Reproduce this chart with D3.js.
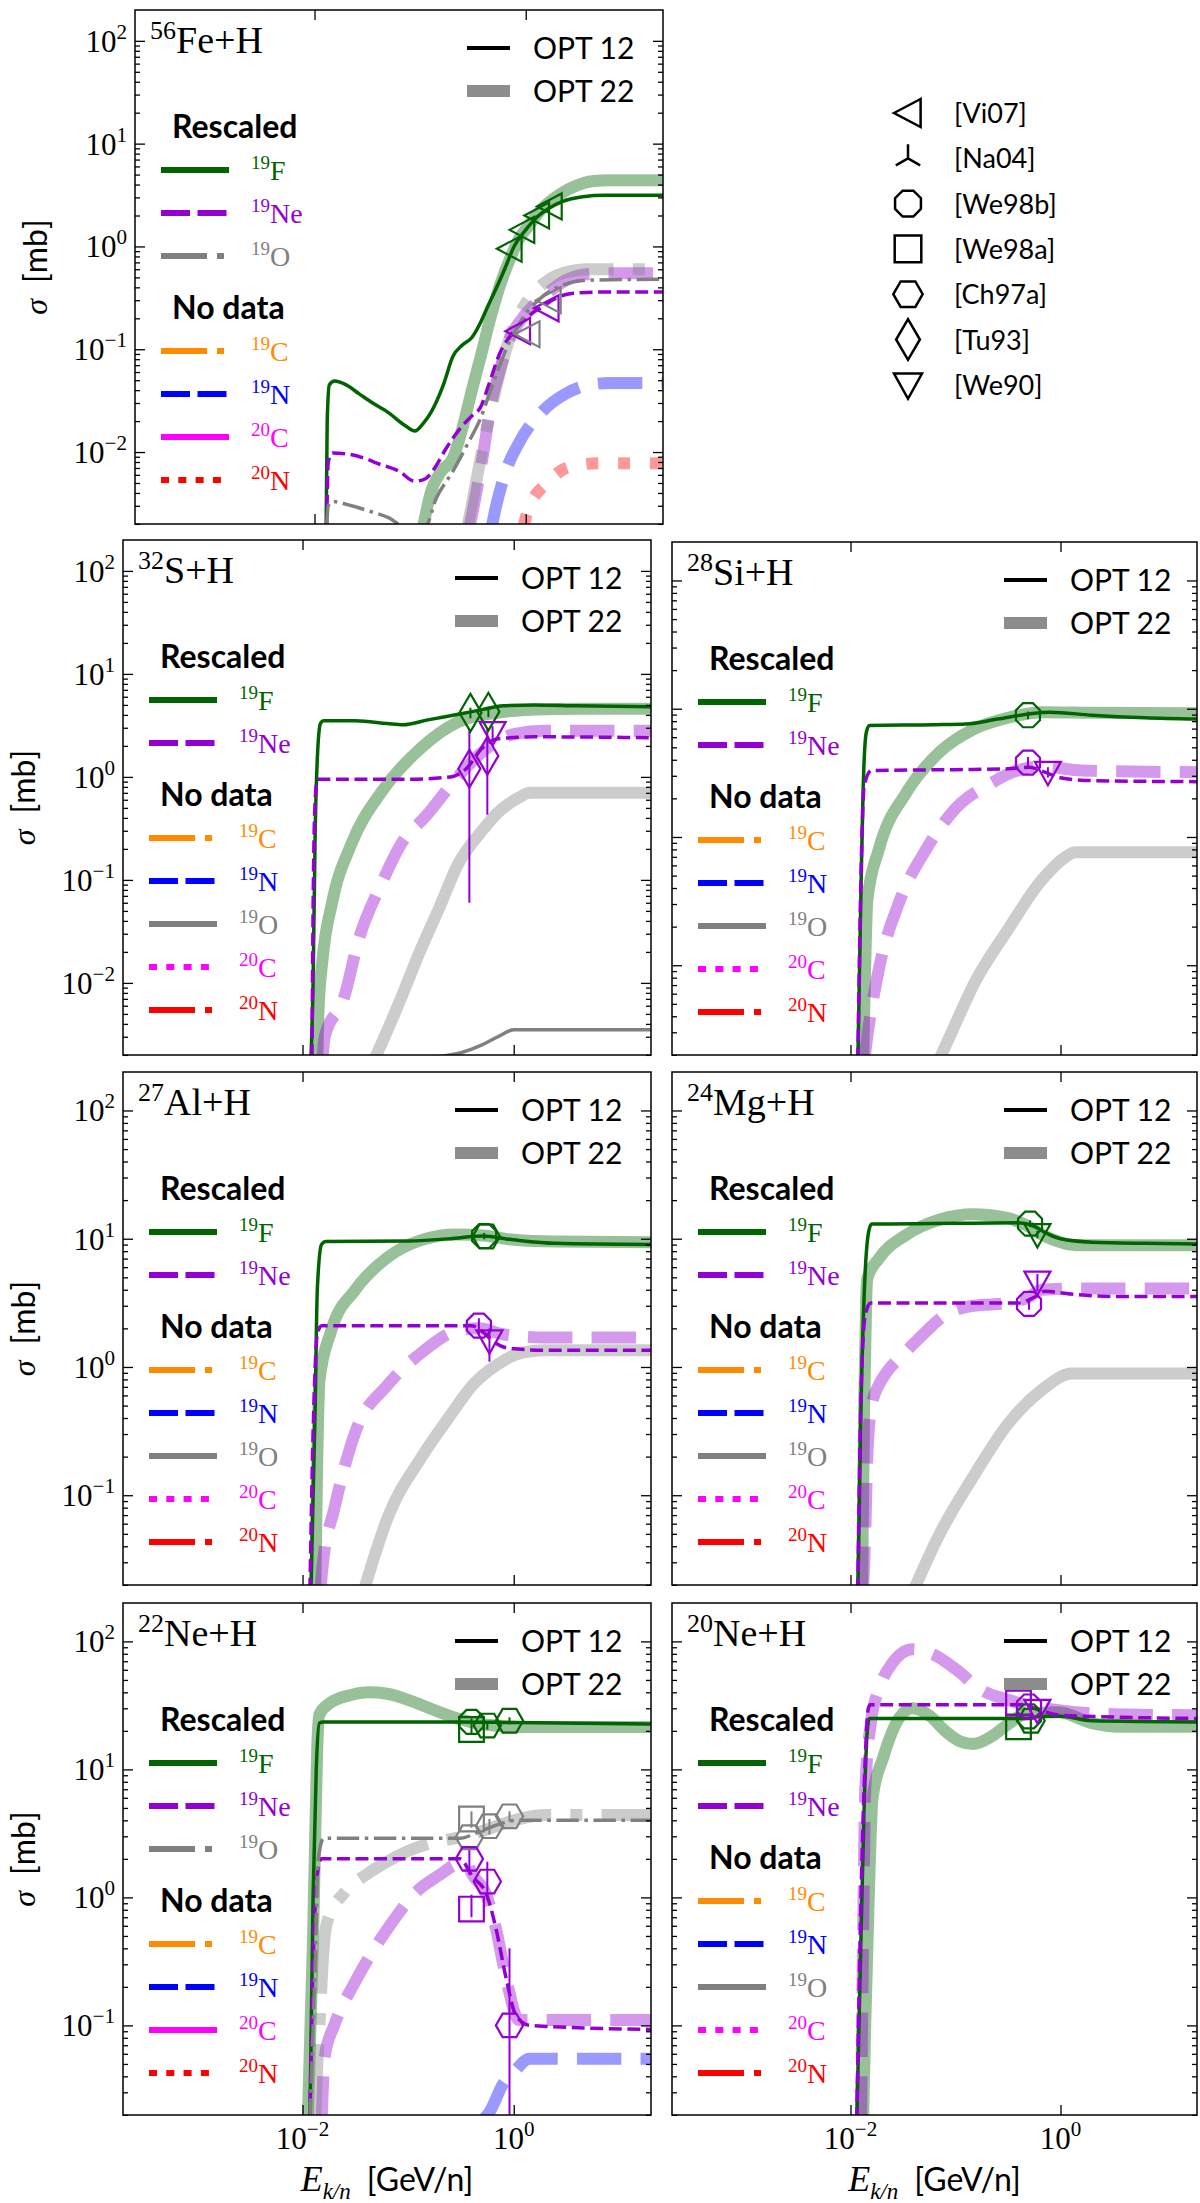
<!DOCTYPE html>
<html>
<head>
<meta charset="utf-8">
<script src="https://cdn.jsdelivr.net/npm/d3@7"></script>
<style>
body { margin: 0; background: #fff; }
</style>
</head>
<body>
<svg id="chart" width="1200" height="2203"></svg>
<script>
// x values are log10(E_k/n [GeV/n]), y values are sigma [mb]

// 56Fe+H
const FE_F12 = [[-1.89,0.0019],[-1.88,0.02],[-1.86,0.045],[-1.81,0.049],[-1.7,0.045],[-1.58,0.037],[-1.45,0.03],[-1.32,0.025],[-1.14,0.018],[-1.05,0.016],[-0.97,0.019],[-0.9,0.024],[-0.78,0.045],[-0.69,0.085],[-0.6,0.11],[-0.51,0.13],[-0.43,0.18],[-0.36,0.26],[-0.29,0.37],[-0.2,0.6],[-0.11,1.0],[0.0,1.45],[0.1,1.9],[0.22,2.35],[0.35,2.75],[0.54,3.05],[0.75,3.15],[1.3,3.15]];
const FE_F22 = [[-0.97,0.0019],[-0.9,0.004],[-0.8,0.0065],[-0.69,0.0087],[-0.6,0.017],[-0.51,0.04],[-0.42,0.09],[-0.335,0.2],[-0.25,0.4],[-0.16,0.71],[-0.06,1.2],[0.02,1.55],[0.15,2.3],[0.32,3.2],[0.48,3.9],[0.63,4.3],[0.8,4.4],[1.3,4.4]];
const FE_NE12 = [[-1.885,0.0019],[-1.87,0.008],[-1.83,0.0098],[-1.67,0.0095],[-1.5,0.0085],[-1.41,0.0078],[-1.2,0.0065],[-1.05,0.0052],[-0.95,0.0055],[-0.87,0.0068],[-0.75,0.011],[-0.6,0.018],[-0.5,0.023],[-0.43,0.027],[-0.35,0.045],[-0.25,0.089],[-0.11,0.15],[0.05,0.22],[0.16,0.26],[0.3,0.32],[0.45,0.35],[0.7,0.36],[1.3,0.36]];
const FE_NE22 = [[-0.53,0.0019],[-0.5,0.0027],[-0.4,0.01],[-0.335,0.027],[-0.25,0.06],[-0.16,0.12],[0.0,0.22],[0.11,0.29],[0.25,0.38],[0.38,0.47],[0.6,0.54],[0.8,0.55],[1.3,0.55]];
const FE_O12 = [[-1.885,0.0019],[-1.87,0.003],[-1.83,0.0033],[-1.65,0.003],[-1.5,0.0027],[-1.3,0.0023],[-1.15,0.0019],[-0.95,0.0019],[-0.85,0.0035],[-0.69,0.0065],[-0.55,0.012],[-0.43,0.021],[-0.3,0.05],[-0.15,0.12],[0.0,0.22],[0.15,0.32],[0.35,0.42],[0.6,0.47],[1.3,0.48]];
const FE_O22 = [[-0.55,0.0019],[-0.5,0.0035],[-0.4,0.012],[-0.3,0.035],[-0.15,0.13],[0.0,0.28],[0.15,0.42],[0.35,0.55],[0.6,0.6],[1.3,0.6]];
const FE_N19_22 = [[-0.32,0.0019],[-0.29,0.0027],[-0.2,0.006],[-0.07,0.012],[0.16,0.025],[0.38,0.037],[0.6,0.045],[0.8,0.047],[1.3,0.047]];
const FE_N20_22 = [[-0.02,0.0019],[0.02,0.0027],[0.2,0.005],[0.42,0.0072],[0.7,0.0078],[1.3,0.0078]];
const FE_PTS = [["Vi07","F",-0.15,0.95],["Vi07","F",-0.03,1.45],["Vi07","F",0.11,2.0],["Vi07","F",0.23,2.45],
  ["Vi07","Ne",-0.07,0.15],["Vi07","Ne",0.2,0.25],["Vi07","O",0.02,0.14],["Vi07","O",0.22,0.3]];

// 32S+H
const S_F12 = [[-1.92,0.0019],[-1.9,0.01],[-1.88,0.3],[-1.86,1.5],[-1.83,3.3],[-1.8,3.5],[-1.5,3.5],[-1.2,3.3],[-1.05,3.2],[-0.8,3.6],[-0.5,4.1],[-0.3,4.5],[-0.1,4.9],[0.2,5.0],[0.6,4.9],[1.3,4.8]];
const S_F22 = [[-1.86,0.0019],[-1.85,0.005],[-1.81,0.017],[-1.72,0.06],[-1.54,0.22],[-1.25,0.72],[-0.89,1.86],[-0.53,3.4],[-0.16,4.2],[0.2,4.5],[0.6,4.6],[1.3,4.6]];
const S_NE12 = [[-1.91,0.0019],[-1.9,0.05],[-1.88,0.6],[-1.86,0.95],[-1.5,0.95],[-1.0,0.95],[-0.6,1.0],[-0.45,1.2],[-0.3,1.9],[-0.15,2.35],[0.2,2.45],[1.3,2.4]];
const S_NE22 = [[-1.81,0.0019],[-1.79,0.003],[-1.61,0.007],[-1.47,0.026],[-1.25,0.093],[-1.07,0.22],[-0.82,0.43],[-0.53,1.0],[-0.31,1.7],[0.0,2.6],[0.3,2.8],[1.3,2.8]];
const S_O12 = [[-0.75,0.0019],[-0.5,0.0021],[-0.3,0.0025],[-0.15,0.003],[0.0,0.0035],[1.3,0.0035]];
const S_O22 = [[-1.31,0.0019],[-1.3,0.002],[-1.07,0.007],[-0.89,0.02],[-0.7,0.055],[-0.53,0.14],[-0.3,0.3],[-0.16,0.44],[0.05,0.63],[0.15,0.7],[1.3,0.7]];
const S_PTS = [["Tu93","F",-0.41,4.2,3.7,4.7],["Tu93","F",-0.24,4.3,3.8,4.8],["Tu93","Ne",-0.42,1.2,0.06,2.9],
  ["Tu93","Ne",-0.25,1.6,0.43,2.9],["We90","Ne",-0.2,2.7,2.3,3.1]];

// 28Si+H
const SI_F12 = [[-1.93,0.018],[-1.9,0.4],[-1.88,2.3],[-1.85,6.5],[-1.82,7.4],[-1.2,7.5],[-0.9,7.6],[-0.6,8.3],[-0.3,9.1],[-0.1,9.4],[0.3,8.9],[0.8,8.5],[1.3,8.3]];
const SI_F22 = [[-1.88,0.018],[-1.86,0.1],[-1.84,0.32],[-1.73,0.8],[-1.47,2.2],[-1.15,4.6],[-0.83,6.9],[-0.5,8.5],[-0.18,9.4],[0.3,9.3],[1.3,9.2]];
const SI_NE12 = [[-1.93,0.018],[-1.9,0.5],[-1.87,2.5],[-1.8,3.3],[-1.0,3.35],[-0.5,3.4],[-0.3,3.5],[-0.15,3.2],[0.0,2.9],[0.3,2.75],[1.3,2.7]];
const SI_NE22 = [[-1.87,0.018],[-1.84,0.028],[-1.73,0.093],[-1.53,0.32],[-1.28,0.8],[-0.99,1.7],[-0.67,2.6],[-0.41,3.3],[-0.18,3.55],[0.2,3.3],[1.3,3.2]];
const SI_O22 = [[-1.16,0.018],[-1.0,0.035],[-0.83,0.07],[-0.5,0.19],[-0.18,0.46],[0.05,0.7],[0.14,0.76],[1.3,0.76]];
const SI_PTS = [["We98b","F",-0.31,8.9,8.3,9.5],["We98b","Ne",-0.31,3.8,3.4,4.2],["We90","Ne",-0.12,3.2,2.9,3.5]];

// 27Al+H
const AL_F12 = [[-1.92,0.018],[-1.88,0.5],[-1.86,4],[-1.82,9.0],[-1.78,9.5],[-1.0,9.6],[-0.6,10.0],[-0.3,10.5],[0.0,9.8],[0.4,9.2],[1.3,9.0]];
const AL_F22 = [[-1.88,0.018],[-1.86,0.2],[-1.84,0.78],[-1.73,1.9],[-1.5,4],[-1.19,7.2],[-0.87,9.8],[-0.55,10.8],[-0.29,10.6],[0.0,9.8],[0.4,9.5],[1.3,9.4]];
const AL_NE12 = [[-1.93,0.018],[-1.9,0.3],[-1.86,1.8],[-1.82,2.1],[-0.4,2.1],[-0.3,1.9],[-0.2,1.6],[-0.05,1.4],[0.3,1.35],[1.3,1.35]];
const AL_NE22 = [[-1.83,0.018],[-1.81,0.028],[-1.7,0.078],[-1.5,0.31],[-1.19,0.73],[-0.87,1.3],[-0.55,1.9],[-0.33,2.0],[-0.1,1.8],[0.3,1.7],[1.3,1.7]];
const AL_O22 = [[-1.42,0.018],[-1.19,0.068],[-0.87,0.2],[-0.6,0.42],[-0.39,0.72],[-0.15,1.05],[0.09,1.3],[0.3,1.35],[1.3,1.35]];
const AL_PTS = [["We98b","F",-0.28,10.5,9.9,11.1],["Ch97a","F",-0.26,10.4],["We98b","Ne",-0.33,2.1,1.8,2.4],["We90","Ne",-0.23,1.6,1.1,2.0]];

// 24Mg+H
const MG_F12 = [[-1.93,0.018],[-1.9,0.5],[-1.87,3.6],[-1.83,11],[-1.8,13],[-1.0,13.2],[-0.4,13.3],[-0.25,12.5],[-0.15,11.2],[0.0,10],[0.3,9.4],[0.8,9.2],[1.3,9.1]];
const MG_F22 = [[-1.89,0.018],[-1.87,0.5],[-1.85,3.5],[-1.84,4.9],[-1.73,7],[-1.47,10.7],[-1.15,14.1],[-0.83,15.5],[-0.5,14.5],[-0.34,12.9],[-0.15,10.5],[-0.02,9.5],[0.14,8.9],[1.3,8.9]];
const MG_NE12 = [[-1.93,0.018],[-1.9,0.6],[-1.86,2.5],[-1.81,3.15],[-0.4,3.15],[-0.25,3.5],[-0.15,3.9],[0.1,3.7],[0.5,3.55],[1.3,3.55]];
const MG_NE22 = [[-1.88,0.018],[-1.86,0.05],[-1.84,0.2],[-1.8,0.5],[-1.72,0.75],[-1.66,0.9],[-1.5,1.25],[-1.37,1.6],[-1.08,2.6],[-0.83,3.0],[-0.5,3.15],[-0.3,3.5],[-0.18,4.0],[0.2,4.1],[1.3,4.1]];
const MG_O22 = [[-1.4,0.018],[-1.15,0.05],[-0.83,0.14],[-0.5,0.36],[-0.18,0.66],[0.11,0.89],[1.3,0.89]];
const MG_PTS = [["We98b","F",-0.29,13.1,12.3,13.9],["We90","F",-0.22,10.8,10.1,11.5],["We98b","Ne",-0.3,3.1,2.8,3.4],["We90","Ne",-0.22,4.6,3.9,5.3]];

// 22Ne+H
const NE22_F12 = [[-1.93,0.018],[-1.9,1.0],[-1.87,10],[-1.84,23],[-1.8,23.5],[-0.5,23.5],[0.0,23.2],[1.3,22.6]];
const NE22_F22 = [[-1.95,0.018],[-1.9,0.5],[-1.88,3],[-1.86,15],[-1.84,27],[-1.74,33],[-1.55,38],[-1.37,40],[-1.2,39],[-0.96,34],[-0.75,29],[-0.51,24.7],[-0.3,22.5],[0.15,21.4],[1.3,21.4]];
const NE22_O12 = [[-1.93,0.018],[-1.88,0.3],[-1.85,2.0],[-1.8,2.9],[-0.51,2.9],[-0.35,3.2],[-0.15,3.7],[0.02,4.0],[1.3,4.0]];
const NE22_O22 = [[-1.88,0.018],[-1.86,0.05],[-1.84,0.1],[-1.8,0.4],[-1.77,0.63],[-1.6,1.1],[-1.4,1.5],[-1.2,1.9],[-1.0,2.3],[-0.75,2.7],[-0.55,2.9],[-0.3,3.3],[0.0,4.0],[0.3,4.4],[1.3,4.4]];
const NE22_NE12 = [[-1.93,0.018],[-1.9,0.3],[-1.86,1.5],[-1.82,2.0],[-0.51,2.0],[-0.39,1.45],[-0.26,1.07],[-0.17,0.58],[-0.07,0.23],[0.02,0.12],[0.15,0.1],[1.3,0.093]];
const NE22_NE22 = [[-1.82,0.018],[-1.79,0.057],[-1.7,0.1],[-1.5,0.22],[-1.2,0.56],[-0.9,1.15],[-0.7,1.5],[-0.55,1.8],[-0.45,1.85],[-0.39,1.5],[-0.26,1.05],[-0.17,0.58],[-0.07,0.23],[0.05,0.11],[0.3,0.11],[1.3,0.11]];
const NE22_N19_22 = [[-0.3,0.018],[-0.23,0.021],[-0.1,0.035],[0.0,0.043],[0.15,0.055],[1.3,0.055]];
const NE22_PTS = [["We98a","F",-0.4,20.5,19,22],["We98b","F",-0.4,23.5,22,25],["Ch97a","F",-0.25,22,20.5,23.5],["Ch97a","F",-0.04,24,22.5,25.5],
  ["We98a","O",-0.4,4.1,3.5,4.7],["Ch97a","O",-0.42,2.95],["Ch97a","O",-0.23,3.6,3.1,4.1],["Ch97a","O",-0.04,4.3,3.9,4.7],
  ["Ch97a","Ne",-0.42,2.0,1.5,2.5],["Ch97a","Ne",-0.25,1.33,0.95,1.9],["We98a","Ne",-0.4,0.81,0.7,1.05],["Ch97a","Ne",-0.04,0.1,0.01,0.4]];

// 20Ne+H
const NE20_F12 = [[-1.94,0.018],[-1.9,0.5],[-1.87,5],[-1.84,20],[-1.82,25],[-0.3,25],[-0.2,26],[0.0,26],[0.3,24],[1.3,23.5]];
const NE20_F22 = [[-1.88,0.018],[-1.86,0.1],[-1.82,1.5],[-1.79,6],[-1.69,12.3],[-1.53,25.7],[-1.41,30],[-1.24,26],[-1.1,20],[-0.95,16.5],[-0.83,15.8],[-0.67,17.8],[-0.5,22.5],[-0.34,27],[-0.02,28],[0.3,23],[0.6,21.5],[1.3,21.5]];
const NE20_NE12 = [[-1.94,0.018],[-1.9,1.0],[-1.86,12],[-1.83,30],[-1.81,32],[-0.35,32],[-0.2,29],[0.0,26.5],[1.3,25]];
const NE20_NE22 = [[-1.9,0.018],[-1.88,0.5],[-1.86,6.7],[-1.8,25],[-1.73,42],[-1.6,68],[-1.41,87],[-1.21,79],[-0.99,60],[-0.76,42],[-0.5,35],[-0.34,32],[-0.02,29],[0.5,27],[1.3,26.5]];
const NE20_PTS = [["We98a","F",-0.4,21.5],["We98b","F",-0.3,26],["Ch97a","F",-0.28,24],["We98a","Ne",-0.4,33],["We98b","Ne",-0.3,31],["We90","Ne",-0.22,29]];

const REFS = ["Vi07", "Na04", "We98b", "We98a", "Ch97a", "Tu93", "We90"];
const X_LOG = [-3.7, 1.3];
const X_TICKS = [-2, 0];

const ISO = {
  F:   {sup: "19", el: "F",  color: "#006400"},
  Ne:  {sup: "19", el: "Ne", color: "#9400d3"},
  O:   {sup: "19", el: "O",  color: "#808080"},
  C19: {sup: "19", el: "C",  color: "#ff8c00"},
  N19: {sup: "19", el: "N",  color: "#0000ff"},
  C20: {sup: "20", el: "C",  color: "#ff00ff"},
  N20: {sup: "20", el: "N",  color: "#ff0000"}
};
const RESCALED_STYLES = ["solid", "dashed", "dashdot"];
const NODATA_STYLES = ["dashdot", "dashed", "solid", "dotted", "dashdot"];

const panels = [
  {id: "fe", sup: "56", el: "Fe", box: [135, 10, 528, 514], ylog: [-2.7, 2.3], left: true, bottom: false,
   rescaled: ["F", "Ne", "O"], nodata: ["C19", "N19", "C20", "N20"],
   opt12: {F: FE_F12, Ne: FE_NE12, O: FE_O12}, opt22: {F: FE_F22, Ne: FE_NE22, O: FE_O22, N19: FE_N19_22, N20: FE_N20_22}, pts: FE_PTS},
  {id: "s", sup: "32", el: "S", box: [123, 540, 528, 515], ylog: [-2.7, 2.3], left: true, bottom: false,
   rescaled: ["F", "Ne"], nodata: ["C19", "N19", "O", "C20", "N20"],
   opt12: {F: S_F12, Ne: S_NE12, O: S_O12}, opt22: {F: S_F22, Ne: S_NE22, O: S_O22}, pts: S_PTS},
  {id: "si", sup: "28", el: "Si", box: [672, 542, 525, 513], ylog: [-1.7, 2.3], left: false, bottom: false,
   rescaled: ["F", "Ne"], nodata: ["C19", "N19", "O", "C20", "N20"],
   opt12: {F: SI_F12, Ne: SI_NE12}, opt22: {F: SI_F22, Ne: SI_NE22, O: SI_O22}, pts: SI_PTS},
  {id: "al", sup: "27", el: "Al", box: [123, 1072, 528, 513], ylog: [-1.7, 2.3], left: true, bottom: false,
   rescaled: ["F", "Ne"], nodata: ["C19", "N19", "O", "C20", "N20"],
   opt12: {F: AL_F12, Ne: AL_NE12}, opt22: {F: AL_F22, Ne: AL_NE22, O: AL_O22}, pts: AL_PTS},
  {id: "mg", sup: "24", el: "Mg", box: [672, 1072, 525, 513], ylog: [-1.7, 2.3], left: false, bottom: false,
   rescaled: ["F", "Ne"], nodata: ["C19", "N19", "O", "C20", "N20"],
   opt12: {F: MG_F12, Ne: MG_NE12}, opt22: {F: MG_F22, Ne: MG_NE22, O: MG_O22}, pts: MG_PTS},
  {id: "ne22", sup: "22", el: "Ne", box: [123, 1603, 528, 512], ylog: [-1.7, 2.3], left: true, bottom: true,
   rescaled: ["F", "Ne", "O"], nodata: ["C19", "N19", "C20", "N20"],
   opt12: {F: NE22_F12, Ne: NE22_NE12, O: NE22_O12}, opt22: {F: NE22_F22, Ne: NE22_NE22, O: NE22_O22, N19: NE22_N19_22}, pts: NE22_PTS},
  {id: "ne20", sup: "20", el: "Ne", box: [672, 1603, 525, 512], ylog: [-1.7, 2.3], left: false, bottom: true,
   rescaled: ["F", "Ne"], nodata: ["C19", "N19", "O", "C20", "N20"],
   opt12: {F: NE20_F12, Ne: NE20_NE12}, opt22: {F: NE20_F22, Ne: NE20_NE22}, pts: NE20_PTS}
];

const serif = '"Liberation Serif", "DejaVu Serif", serif';
const sans = 'Lato, "Open Sans", sans-serif';
const svg = d3.select("#chart");

function dashFor(style, lw) {
  const p = {solid: null, dashed: [3.7, 1.6], dashdot: [6.4, 1.6, 1, 1.6], dotted: [1, 1.65]}[style];
  return p ? p.map(v => v * lw).join(",") : null;
}
const legendDash = {solid: null, dashed: "29,7.5", dashdot: "46,10,7,10", dotted: "8,9.3"};

function markerPath(ref, r) {
  const poly = pts => "M" + pts.map(p => p[0].toFixed(2) + "," + p[1].toFixed(2)).join("L") + "Z";
  switch (ref) {
    case "Vi07": return poly([[-r, 0], [0.9 * r, -r], [0.9 * r, r]]);
    case "Na04": return `M0,0L0,${-r}M0,0L${-0.87 * r},${0.5 * r}M0,0L${0.87 * r},${0.5 * r}`;
    case "We98b": return poly(d3.range(8).map(k => {
      const a = (22.5 + 45 * k) * Math.PI / 180; return [r * Math.cos(a), r * Math.sin(a)]; }));
    case "We98a": return poly([[-0.95 * r, -0.95 * r], [0.95 * r, -0.95 * r], [0.95 * r, 0.95 * r], [-0.95 * r, 0.95 * r]]);
    case "Ch97a": return poly(d3.range(6).map(k => {
      const a = (60 * k) * Math.PI / 180; return [1.05 * r * Math.cos(a), 1.05 * r * Math.sin(a)]; }));
    case "Tu93": return poly([[0, -1.45 * r], [0.85 * r, 0], [0, 1.45 * r], [-0.85 * r, 0]]);
    case "We90": return poly([[-r, -0.8 * r], [r, -0.8 * r], [0, r]]);
  }
}

function powLabel(sel, k, size) {
  sel.append("tspan").attr("font-family", serif).text("10");
  sel.append("tspan").attr("font-family", serif).attr("dy", -13).attr("font-size", size * 0.68)
    .text(k < 0 ? "\u2212" + (-k) : String(k));
}

function isoLabel(sel, iso) {
  sel.append("tspan").attr("font-family", serif).attr("font-size", 19).attr("dy", -11).text(iso.sup);
  sel.append("tspan").attr("font-family", serif).attr("font-size", 28).attr("dy", 11).text(iso.el);
}

function drawPanel(p) {
  const [bx, by, w, h] = p.box;
  const g = svg.append("g").attr("transform", `translate(${bx},${by})`);
  const x = d3.scaleLog().domain([10 ** X_LOG[0], 10 ** X_LOG[1]]).range([0, w]);
  const y = d3.scaleLog().domain([10 ** p.ylog[0], 10 ** p.ylog[1]]).range([h, 0]);

  const clipId = "clip-" + p.id;
  g.append("clipPath").attr("id", clipId).append("rect").attr("width", w).attr("height", h);
  const plot = g.append("g").attr("clip-path", `url(#${clipId})`);

  const styleOf = {};
  p.rescaled.forEach((k, i) => styleOf[k] = RESCALED_STYLES[i]);
  p.nodata.forEach((k, i) => styleOf[k] = NODATA_STYLES[i]);

  const line = d3.line().x(d => x(10 ** d[0])).y(d => y(d[1])).curve(d3.curveMonotoneX);

  // OPT 22: thick, transparent
  Object.entries(p.opt22).forEach(([k, data]) => {
    plot.append("path").attr("d", line(data))
      .attr("fill", "none").attr("stroke", ISO[k].color).attr("stroke-opacity", 0.4)
      .attr("stroke-width", 12).attr("stroke-linejoin", "round")
      .attr("stroke-dasharray", dashFor(styleOf[k], 12));
  });
  // OPT 12: thin
  Object.entries(p.opt12).forEach(([k, data]) => {
    plot.append("path").attr("d", line(data))
      .attr("fill", "none").attr("stroke", ISO[k].color)
      .attr("stroke-width", 3.5).attr("stroke-linejoin", "round")
      .attr("stroke-dasharray", dashFor(styleOf[k], 3.5));
  });

  // data points
  const errs = p.pts.filter(d => d[4] !== undefined);
  plot.selectAll(".err").data(errs).enter().append("line")
    .attr("x1", d => x(10 ** d[2])).attr("x2", d => x(10 ** d[2]))
    .attr("y1", d => y(d[4])).attr("y2", d => y(d[5]))
    .attr("stroke", d => ISO[d[1]].color).attr("stroke-width", 2);
  plot.selectAll(".pt").data(p.pts).enter().append("path")
    .attr("transform", d => `translate(${x(10 ** d[2])},${y(d[3])})`)
    .attr("d", d => markerPath(d[0], 13))
    .attr("fill", "none").attr("stroke", d => ISO[d[1]].color).attr("stroke-width", 2.2);

  // ticks on all four sides, pointing inward
  const yMajor = d3.range(Math.ceil(p.ylog[0]), Math.floor(p.ylog[1]) + 1).map(k => 10 ** k);
  const yMinor = [];
  d3.range(Math.floor(p.ylog[0]), Math.ceil(p.ylog[1])).forEach(k => {
    for (let m = 2; m <= 9; m++) {
      const v = m * 10 ** k;
      if (v >= 10 ** p.ylog[0] && v <= 10 ** p.ylog[1]) yMinor.push(v);
    }
  });
  const xMajor = X_TICKS.map(k => 10 ** k);
  const ticks = (axis, tr) => g.append("g").attr("transform", tr).call(axis.tickFormat(""))
    .call(a => a.select(".domain").remove())
    .call(a => a.selectAll("line").attr("stroke", "#000").attr("stroke-width", 1.3));
  ticks(d3.axisLeft(y).tickValues(yMajor).tickSize(-10), "translate(0,0)");
  ticks(d3.axisLeft(y).tickValues(yMinor).tickSize(-5), "translate(0,0)");
  ticks(d3.axisRight(y).tickValues(yMajor).tickSize(-10), `translate(${w},0)`);
  ticks(d3.axisRight(y).tickValues(yMinor).tickSize(-5), `translate(${w},0)`);
  ticks(d3.axisTop(x).tickValues(xMajor).tickSize(-10), "translate(0,0)");
  ticks(d3.axisBottom(x).tickValues(xMajor).tickSize(-10), `translate(0,${h})`);

  g.append("rect").attr("width", w).attr("height", h)
    .attr("fill", "none").attr("stroke", "#000").attr("stroke-width", 1.5);

  if (p.left) {
    d3.range(Math.ceil(p.ylog[0]), Math.floor(p.ylog[1]) + 1).forEach(k => {
      const t = g.append("text").attr("x", -8).attr("y", y(10 ** k) + 11)
        .attr("text-anchor", "end").attr("font-size", 31);
      powLabel(t, k, 31);
    });
    const yl = g.append("text").attr("transform", `translate(${-88},${h / 2}) rotate(-90)`)
      .attr("text-anchor", "middle").attr("font-size", 32);
    yl.append("tspan").attr("font-family", serif).attr("font-style", "italic").text("\u03c3");
    yl.append("tspan").attr("font-family", sans).text("\u2002[mb]");
  }
  if (p.bottom) {
    X_TICKS.forEach(k => {
      const t = g.append("text").attr("x", x(10 ** k)).attr("y", h + 34)
        .attr("text-anchor", "middle").attr("font-size", 31);
      powLabel(t, k, 31);
    });
    const xl = g.append("text").attr("x", w / 2).attr("y", h + 76).attr("text-anchor", "middle");
    xl.append("tspan").attr("font-family", serif).attr("font-style", "italic").attr("font-size", 36).text("E");
    xl.append("tspan").attr("font-family", serif).attr("font-style", "italic").attr("font-size", 23).attr("dy", 8).text("k/n");
    xl.append("tspan").attr("font-family", sans).attr("font-size", 32).attr("dy", -8).text("\u2002[GeV/n]");
  }

  // panel title
  const title = g.append("text").attr("x", 15).attr("y", 43).attr("font-family", serif);
  title.append("tspan").attr("font-size", 26).attr("dy", -14).text(p.sup);
  title.append("tspan").attr("font-size", 38).attr("dy", 14).text(p.el + "+H");

  // OPT legend
  g.append("line").attr("x1", 332).attr("x2", 375).attr("y1", 38).attr("y2", 38)
    .attr("stroke", "#000").attr("stroke-width", 4);
  g.append("line").attr("x1", 332).attr("x2", 375).attr("y1", 81).attr("y2", 81)
    .attr("stroke", "#8c8c8c").attr("stroke-width", 12);
  g.append("text").attr("x", 398).attr("y", 49).attr("font-family", sans).attr("font-size", 30).text("OPT 12");
  g.append("text").attr("x", 398).attr("y", 92).attr("font-family", sans).attr("font-size", 30).text("OPT 22");

  // isotope legend
  const rows = [];
  let yy = 117;
  rows.push({head: "Rescaled", y: yy});
  p.rescaled.forEach(k => { yy += 43; rows.push({iso: k, y: yy}); });
  yy += 52;
  rows.push({head: "No data", y: yy});
  p.nodata.forEach(k => { yy += 43; rows.push({iso: k, y: yy}); });
  rows.forEach(r => {
    if (r.head) {
      g.append("text").attr("x", 37).attr("y", r.y + 11).attr("font-family", sans)
        .attr("font-weight", "bold").attr("font-size", 32).text(r.head);
    } else {
      const iso = ISO[r.iso];
      g.append("line").attr("x1", 26).attr("x2", 94).attr("y1", r.y).attr("y2", r.y)
        .attr("stroke", iso.color).attr("stroke-width", 6)
        .attr("stroke-dasharray", legendDash[styleOf[r.iso]]);
      const t = g.append("text").attr("x", 116).attr("y", r.y + 10).attr("fill", iso.color);
      isoLabel(t, iso);
    }
  });
}

panels.forEach(drawPanel);

// reference legend (top right)
const refLeg = svg.append("g");
REFS.forEach((ref, i) => {
  const cy = 113 + i * 45.3;
  refLeg.append("path").attr("transform", `translate(908,${cy})`).attr("d", markerPath(ref, 14))
    .attr("fill", "none").attr("stroke", "#000").attr("stroke-width", 2.5);
  refLeg.append("text").attr("x", 954).attr("y", cy + 10).attr("font-family", sans)
    .attr("font-size", 27).text("[" + ref + "]");
});
</script>
</body>
</html>
